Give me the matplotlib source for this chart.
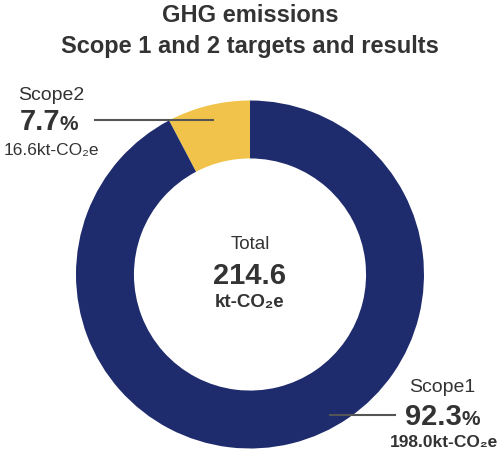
import matplotlib
matplotlib.use("Agg")
import matplotlib.pyplot as plt

categories = ["Scope2", "Scope1"]
shares = [7.7, 92.3]
amounts = ["16.6", "198.0"]
total = "214.6"
colors = ["#f1c34a", "#1e2b6c"]

plt.rcParams['font.family'] = ['Liberation Sans', 'DejaVu Sans']
W, H = 500, 452
fig = plt.figure(figsize=(W/100, H/100), dpi=100)

def fx(x): return x / W
def fy(y): return 1 - y / H

R = 174
cx, cy = 250, 275.5
ax = fig.add_axes([fx(cx - R), fy(cy + R), 2*R/W, 2*R/H])
ax.pie(shares, colors=colors, startangle=90, counterclock=True, radius=1,
       wedgeprops=dict(width=0.333, edgecolor='none'))
ax.set_xlim(-1, 1); ax.set_ylim(-1, 1); ax.set_aspect('equal')
ax.axis('off')

tc = '#333333'
fig.text(fx(250), fy(16), "GHG emissions", ha='center', va='center', fontsize=17, fontweight='bold', color=tc)
fig.text(fx(250), fy(47), "Scope 1 and 2 targets and results", ha='center', va='center', fontsize=17, fontweight='bold', color=tc)

# center
fig.text(fx(250), fy(245), "Total", ha='center', va='center', fontsize=13.5, color=tc)
fig.text(fx(250), fy(276), total, ha='center', va='center', fontsize=21, fontweight='bold', color=tc)
fig.text(fx(250), fy(302), "kt-CO₂e", ha='center', va='center', fontsize=13.5, fontweight='bold', color=tc)

# Scope2 label
fig.text(fx(51), fy(95), categories[0], ha='center', va='center', fontsize=14, color=tc)
fig.text(fx(60), fy(122), f"{shares[0]}", ha='right', va='center', fontsize=21, fontweight='bold', color=tc)
fig.text(fx(60), fy(125), "%", ha='left', va='center', fontsize=15, fontweight='bold', color=tc)
fig.text(fx(51), fy(151), f"{amounts[0]}kt-CO₂e", ha='center', va='center', fontsize=12.5, color=tc)
fig.add_artist(plt.Line2D([fx(95), fx(213)], [fy(121), fy(121)], color='#555555', lw=1.5))

# Scope1 label
fig.text(fx(442), fy(387), categories[1], ha='center', va='center', fontsize=14, color=tc)
fig.text(fx(462), fy(417), f"{shares[1]}", ha='right', va='center', fontsize=21, fontweight='bold', color=tc)
fig.text(fx(462), fy(420), "%", ha='left', va='center', fontsize=15, fontweight='bold', color=tc)
fig.text(fx(444), fy(443), f"{amounts[1]}kt-CO₂e", ha='center', va='center', fontsize=12.5, fontweight='bold', color=tc)
fig.add_artist(plt.Line2D([fx(330), fx(395)], [fy(416), fy(416)], color='#555555', lw=1.5))

fig.savefig("out.png", dpi=100)
